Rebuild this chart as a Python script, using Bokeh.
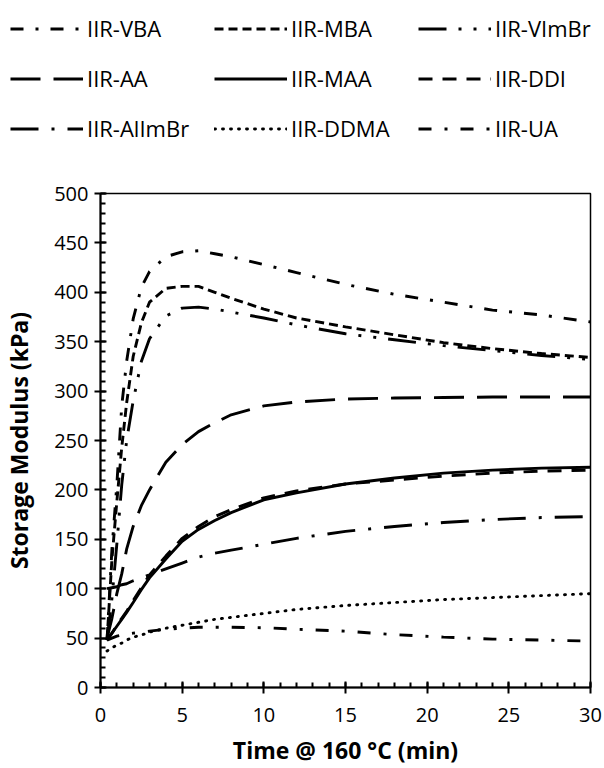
from bokeh.plotting import figure
from bokeh.layouts import column
from bokeh.models import Legend, LegendItem, SingleIntervalTicker, Range1d
from bokeh.embed import file_html
from bokeh.resources import INLINE

# ---- data ----
time_min = [0.4, 0.7, 1.0, 1.3, 1.6, 2.0, 2.5, 3, 4, 5, 6, 7, 8, 10, 12, 15, 18, 21, 24, 27, 30]

iir_vba = [48, 140, 205, 285, 330, 373, 405, 421, 436, 441, 442, 439, 436, 428, 420, 408, 398, 390, 382, 377, 370]
iir_mba = [48, 130, 188, 243, 288, 335, 369, 390, 404, 406, 406, 400, 394, 383, 374, 365, 357, 349, 343, 338, 334]
iir_vimbr = [48, 90, 145, 205, 250, 290, 330, 353, 376, 384, 385, 383, 380, 374, 367, 358, 352, 346, 341, 336, 332]
iir_aa = [50, 70, 95, 115, 140, 163, 184, 200, 228, 246, 259, 268, 276, 285, 289, 292, 293, 293.5, 294, 294, 294]
iir_maa = [48, 55, 62, 69, 76, 86, 99, 111, 130, 148, 160, 169, 177, 190, 197, 206, 212, 217, 220, 222, 223]
iir_ddi = [48, 55, 63, 70, 77, 88, 101, 114, 133, 151, 163, 173, 180, 192, 199, 206, 210, 214, 217, 219, 220]
iir_alimbr = [100, 101, 102, 104, 105, 108, 111, 114, 120, 126, 132, 136, 139, 145, 151, 158, 163, 167, 170, 172, 173]
iir_ddma = [37, 40, 43, 45, 48, 51, 53, 56, 60, 63, 66, 69, 71, 75, 79, 83, 86, 89, 91, 93, 95]
iir_ua = [48, 50, 52, 53, 54, 55, 56, 57, 59, 60, 61, 61, 61, 60.5, 59, 57, 53.5, 51, 49, 48, 47]

series_labels = ["IIR-VBA", "IIR-MBA", "IIR-VImBr", "IIR-AA", "IIR-MAA", "IIR-DDI",
                 "IIR-AlImBr", "IIR-DDMA", "IIR-UA"]
series_values = [iir_vba, iir_mba, iir_vimbr, iir_aa, iir_maa, iir_ddi, iir_alimbr, iir_ddma, iir_ua]
series_dashes = ["13 12 3 12", "9 5", "28 12 3 12 3 12", "30 13", "solid", "14 10",
                 "28 13 3 13", "1 7", "13 13 3 13"]

x_ticks_interval = 5
y_ticks_interval = 50
x_title = "Time @ 160 \u00b0C (min)"
y_title = "Storage Modulus (kPa)"

FONT = "Open Sans"
LW = 2.9


def style_line(lab, dash):
    return dict(line_color="black", line_width=LW, line_dash=dash,
                line_cap="round" if lab == "IIR-DDMA" else "butt")


# ---- main chart ----
p = figure(width=604, height=608, x_range=Range1d(0, 30), y_range=Range1d(0, 500),
           output_backend="svg", toolbar_location=None,
           min_border_left=100, min_border_right=14, min_border_top=33, min_border_bottom=79)
p.frame_align = False
p.background_fill_color = "white"
p.border_fill_color = "white"
p.outline_line_color = "black"
p.outline_line_width = 1.5
p.xgrid.visible = False
p.ygrid.visible = False

for lab, vals, dash in zip(series_labels, series_values, series_dashes):
    p.line(time_min, vals, **style_line(lab, dash))

for ax in (p.xaxis[0], p.yaxis[0]):
    ax.axis_line_width = 2
    ax.axis_line_color = "black"
    ax.major_tick_line_width = 2
    ax.minor_tick_line_width = 2
    ax.major_tick_in = 6
    ax.major_tick_out = 6
    ax.minor_tick_in = 5
    ax.minor_tick_out = 0
    ax.major_label_text_font = FONT
    ax.major_label_text_font_size = "20px"
    ax.major_label_text_color = "black"
    ax.axis_label_text_font = FONT
    ax.axis_label_text_font_size = "23px"
    ax.axis_label_text_font_style = "bold"
    ax.axis_label_text_color = "black"

p.xaxis[0].ticker = SingleIntervalTicker(interval=x_ticks_interval, num_minor_ticks=5)
p.yaxis[0].ticker = SingleIntervalTicker(interval=y_ticks_interval, num_minor_ticks=5)
p.xaxis[0].axis_label = x_title
p.yaxis[0].axis_label = y_title
p.xaxis[0].major_label_standoff = 14
p.xaxis[0].axis_label_standoff = 9
p.yaxis[0].major_label_standoff = 6
p.yaxis[0].axis_label_standoff = 16

# ---- legend panel (same series, lines kept outside the visible range) ----
lg = figure(width=604, height=160, x_range=Range1d(0, 30), y_range=Range1d(-2000, -1000),
            output_backend="svg", toolbar_location=None, x_axis_type=None, y_axis_type=None,
            min_border=0)
lg.frame_align = False
lg.outline_line_color = None
lg.background_fill_color = "white"
lg.border_fill_color = "white"
lg.xgrid.visible = False
lg.ygrid.visible = False

items = []
for lab, vals, dash in zip(series_labels, series_values, series_dashes):
    r = lg.line(time_min, vals, **style_line(lab, dash))
    items.append(LegendItem(label=lab, renderers=[r]))

legend = Legend(items=items, orientation="horizontal", ncols=3,
                location=(10, 17), padding=0, margin=0,
                glyph_width=73, glyph_height=29, label_height=29, label_standoff=4,
                label_width=107, spacing=20, border_line_color=None, background_fill_alpha=0,
                label_text_font=FONT, label_text_font_size="22px", label_text_color="black")
lg.add_layout(legend, "center")

layout = column(lg, p, spacing=0)
open("out.html", "w").write(file_html(layout, INLINE))
